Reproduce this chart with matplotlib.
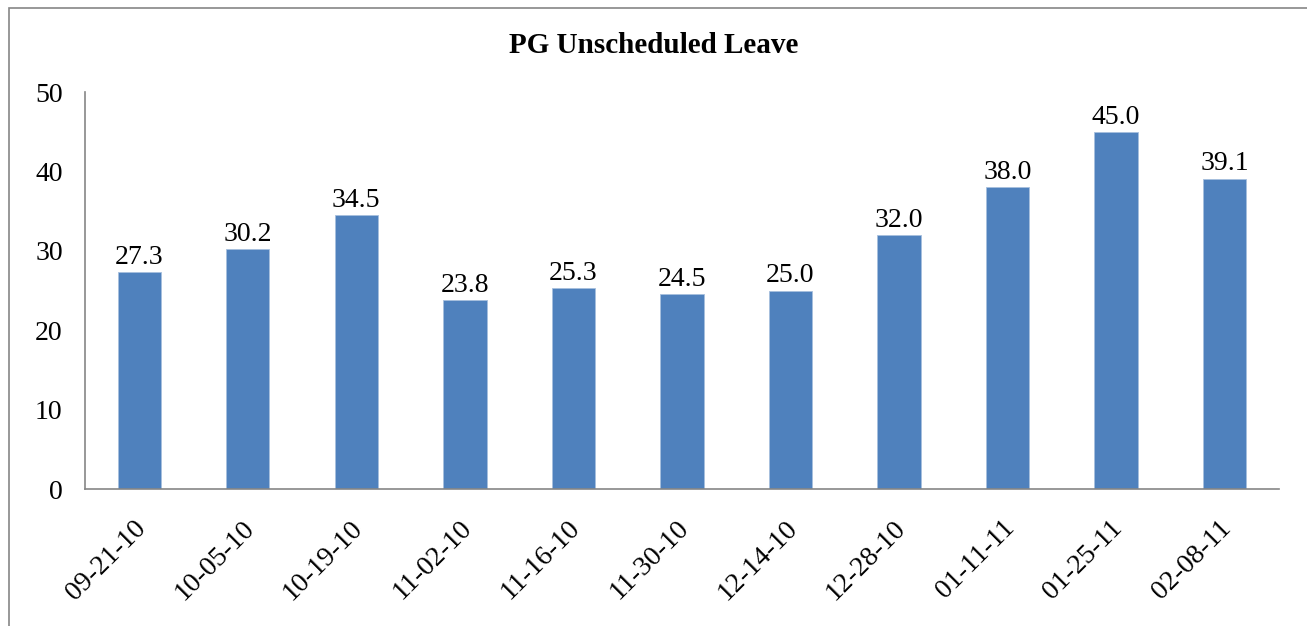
import matplotlib.pyplot as plt
import matplotlib.transforms as mtransforms
from matplotlib.patches import Rectangle

dates = ['09-21-10', '10-05-10', '10-19-10', '11-02-10', '11-16-10', '11-30-10',
         '12-14-10', '12-28-10', '01-11-11', '01-25-11', '02-08-11']
leave = [27.3, 30.2, 34.5, 23.8, 25.3, 24.5, 25.0, 32.0, 38.0, 45.0, 39.1]

plt.rcParams['font.family'] = ['Liberation Serif', 'DejaVu Serif']

fig = plt.figure(figsize=(13.07, 6.26), dpi=100)
ax = fig.add_axes([0.065, 0.2188, 0.9135, 0.6342])

x = list(range(len(dates)))
bars = ax.bar(x, leave, width=0.4, color='#4F81BD', edgecolor='#A7BFDE', linewidth=0.6)
for b, v in zip(bars, leave):
    ax.annotate('%.1f' % v, (b.get_x() + b.get_width() / 2, v), xytext=(0, 1.5),
                textcoords='offset points', ha='center', va='bottom', fontsize=20)

ax.set_xlim(-0.5, len(dates) - 0.5)
ax.set_ylim(0, 50)
ax.set_yticks([0, 10, 20, 30, 40, 50])
ax.set_xticks(x)
ax.set_xticklabels(dates, rotation=45, ha='right', rotation_mode='anchor')
ax.tick_params(axis='both', length=0, labelsize=20)
ax.tick_params(axis='x', pad=19)
ax.tick_params(axis='y', pad=16)
shift = mtransforms.ScaledTranslation(-6 / 100, 0, fig.dpi_scale_trans)
for lbl in ax.get_xticklabels():
    lbl.set_transform(lbl.get_transform() + shift)
for s in ['top', 'right']:
    ax.spines[s].set_visible(False)
for s in ['left', 'bottom']:
    ax.spines[s].set_color('#868686')
    ax.spines[s].set_linewidth(1.2)

fig.text(0.5, 0.928, 'PG Unscheduled Leave', ha='center', va='center',
         fontsize=21, fontweight='bold')

fig.patches.append(Rectangle((9 / 1307, -0.1), 1.2, (626 - 8) / 626 + 0.1,
                             transform=fig.transFigure, fill=False,
                             edgecolor='#868686', linewidth=1.2))

fig.savefig('out.png', dpi=100)
